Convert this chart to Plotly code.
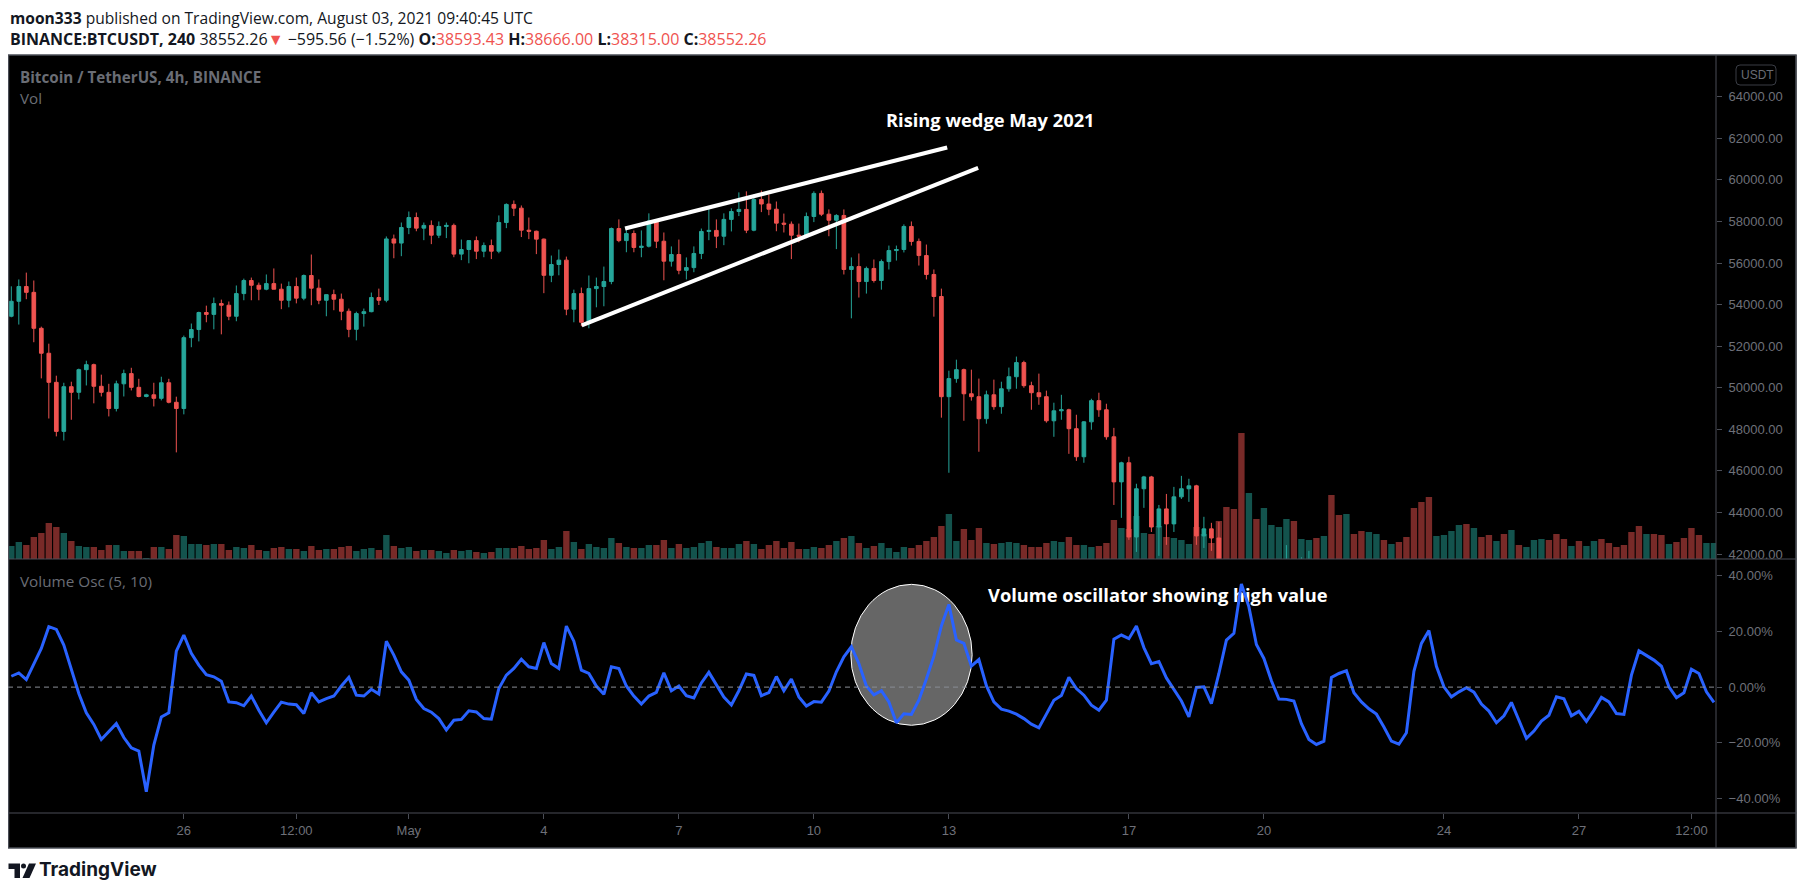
import pandas as pd
import plotly.graph_objects as go
from plotly.subplots import make_subplots

# BINANCE:BTCUSDT 4h candles, 22 Apr - 30 May 2021.
# Prices after 19 May fall below the visible pane; only a few wick tips show.
START = "2021-04-22 04:00"
N_BARS = 228

FIRST_OPEN = 53440
CLOSE = [
    54160, 54870, 54590, 52860, 51660, 50260, 47900, 50050, 49780, 50870,
    51110, 50070, 49780, 49000, 50190, 50680, 50020, 49580, 49660, 49490,
    50240, 49300, 49000, 52410, 52800, 53620, 53530, 54050, 53970, 53440,
    54530, 55160, 54930, 54740, 55010, 54740, 54210, 54870, 54310, 55400,
    54790, 54210, 54480, 54260, 53680, 52810, 53570, 53660, 54340, 54210,
    57160, 56960, 57710, 58190, 57680, 57810, 57340, 57760, 57810, 56430,
    56650, 57080, 56570, 56840, 56570, 57950, 58820, 58640, 57580, 57530,
    57150, 55410, 55930, 56140, 53780, 54530, 53150, 54770, 54870, 55110,
    57660, 57080, 57420, 56750, 56810, 58020, 57050, 56090, 56410, 55650,
    55780, 56460, 57520, 57570, 57290, 58100, 58480, 58580, 57580, 59060,
    58840, 58590, 57920, 57870, 57340, 57290, 58240, 59350, 58350, 58060,
    58290, 55690, 55830, 55110, 55740, 55160, 56070, 56600, 56650, 57760,
    57040, 56360, 55450, 54390, 49570, 50440, 50870, 49710, 49570, 48510,
    49660, 49090, 49950, 50530, 51210, 50100, 49760, 49570, 48410, 48890,
    48940, 48030, 46680, 48360, 49380, 48940, 47640, 45470, 46390, 42820,
    45140, 45710, 43300, 44170, 43450, 44750, 45140, 45280, 42870, 43210,
    42770, 40900, 38400, 36700, 34900, 38300, 36700, 38900, 39600, 40000,
    41300, 40200, 40800, 41200,
]
HIGH = [
    54880, 55210, 55540, 55160, 52940, 52120, 50580, 50240, 50290, 50920,
    51300, 51160, 50630, 50190, 50340, 50870, 50960, 50430, 49710, 50240,
    50530, 50430, 49570, 52510, 53090, 53660, 53950, 54340, 54240, 54150,
    54920, 55250, 55300, 55060, 55450, 55740, 55010, 55110, 55300, 55450,
    56410, 55210, 54480, 54720, 54530, 53810, 53660, 53810, 54580, 54770,
    57280, 57370, 57950, 58480, 58430, 57950, 58050, 58000, 57950, 57900,
    57130, 57080, 57280, 56990, 57130, 58290, 58870, 59010, 58770, 58190,
    57560, 57180, 56360, 56650, 56310, 54720, 54820, 55400, 55300, 55830,
    57710, 58100, 57610, 57570, 57570, 58390, 58100, 57470, 56800, 57130,
    56270, 56800, 57660, 58670, 58100, 58390, 58630, 59400, 59450, 59300,
    59490, 59300, 58960, 58380, 58000, 57900, 58430, 59450, 59490, 58580,
    58350, 58580, 56270, 56460, 55830, 56170, 56170, 56840, 56840, 57860,
    58000, 57180, 56890, 55690, 54770, 50820, 51350, 50920, 50870, 50440,
    49860, 50390, 50290, 50970, 51500, 51300, 50290, 50680, 49860, 49280,
    49660, 48990, 48700, 48400, 49470, 49760, 49230, 48070, 46440, 46680,
    45380, 45760, 45760, 44360, 44890, 45230, 45760, 45620, 45330, 43790,
    43500, 43550, 41100, 38600, 37000, 39300, 40000, 39400, 40100, 41000,
    42430, 41700, 41840, 42150,
]
LOW = [
    53390, 53040, 54260, 52190, 50450, 48520, 47660, 47460, 48460, 49440,
    50110, 49250, 49580, 48620, 48860, 49580, 49870, 49540, 49540, 49100,
    49390, 49250, 46890, 48720, 51950, 52230, 53150, 52810, 52570, 53250,
    53200, 54210, 54210, 54210, 54690, 54740, 53780, 53870, 54060, 54210,
    53970, 54020, 53440, 53730, 53250, 52430, 52280, 52940, 53630, 53980,
    54110, 56230, 56330, 57390, 57530, 57100, 56910, 57200, 57200, 56280,
    56140, 55990, 56190, 56280, 56190, 56470, 57680, 58260, 57250, 57150,
    56430, 54550, 55080, 55410, 53490, 53150, 52960, 52860, 53870, 53920,
    54980, 57000, 56520, 56520, 56280, 56750, 56720, 55170, 55830, 55460,
    55210, 55560, 56190, 57100, 56720, 56860, 57520, 58260, 57440, 57530,
    58450, 58300, 57530, 57470, 56190, 57000, 57200, 57970, 58260, 57290,
    56670, 55450, 53340, 54340, 54530, 55060, 54720, 55690, 56120, 56510,
    56840, 55880, 55210, 53420, 48560, 45910, 50240, 48410, 49380, 46920,
    48270, 48940, 48750, 49810, 49950, 50000, 48940, 49180, 48320, 47640,
    48460, 46820, 46480, 46390, 47980, 48600, 47500, 44360, 43740, 42680,
    42100, 44220, 43060, 41910, 42440, 43060, 44650, 44510, 42440, 42290,
    42150, 40500, 38000, 35500, 30000, 34500, 36400, 36600, 38300, 38700,
    39700, 39500, 40000, 40500,
]

# volume in thousands of BTC, and bar direction (g = up candle, r = down candle)
VOLUME_K = [
    13, 17, 14, 22, 26, 36, 32, 26, 18, 13,
    12, 12, 9, 14, 14, 8, 8, 8, 1, 12,
    12, 10, 24, 23, 15, 15, 14, 15, 15, 9,
    12, 11, 14, 9, 8, 11, 12, 10, 10, 8,
    13, 9, 10, 10, 12, 13, 8, 10, 11, 9,
    24, 13, 11, 12, 8, 9, 9, 8, 6, 9,
    8, 9, 7, 6, 7, 11, 11, 11, 13, 10,
    11, 19, 10, 12, 28, 17, 10, 15, 12, 11,
    21, 16, 12, 11, 11, 14, 14, 19, 11, 15,
    11, 12, 16, 18, 12, 11, 11, 15, 18, 15,
    10, 14, 18, 11, 17, 10, 10, 12, 11, 14,
    18, 21, 23, 16, 11, 13, 16, 11, 7, 12,
    11, 14, 18, 22, 33, 45, 18, 30, 19, 31,
    16, 15, 16, 17, 16, 14, 12, 12, 16, 18,
    17, 22, 14, 14, 12, 13, 16, 39, 31, 30,
    43, 26, 25, 33, 22, 21, 19, 15, 32, 25,
    16, 38, 52, 50, 126, 66, 40, 51, 34, 32,
    40, 38, 20, 19, 21, 23, 64, 44, 45, 25,
    28, 27, 25, 19, 15, 17, 22, 51, 57, 62,
    23, 24, 28, 34, 35, 31, 22, 24, 18, 25,
    29, 14, 12, 19, 20, 19, 25, 20, 13, 18,
    13, 18, 20, 16, 12, 14, 27, 33, 25, 25,
    24, 15, 17, 21, 31, 24, 16, 16,
]
VOLUME_DIR = "".join([
    "ggrrrrrgrg", "grrrggrrgr", "grrgggrgrr", "ggrrgrrgrg", "rrgrrrgggr",
    "grggrgrggr", "ggrgrggrrr", "rrggrgrggg", "grgrggrrgr", "ggggrgggrg",
    "rrrrrrggrr", "grgrgrgggg", "rrrrrggrrr", "grgggrrrrg", "grrggrrrgr",
    "ggrgrgggrg", "rrrrrgrggg", "grggrgrrgr", "rggrgrrrrr", "ggggrgrrgr",
    "grgggrrrgr", "ggrrrrrrgr", "rgrrrrgg",
])

# Volume Osc (5, 10), percent
VOL_OSC = [
    3.9, 5.1, 2.7, 8.5, 13.9, 21.7, 20.7, 15.1, 6.7, -2.3,
    -9.2, -13.4, -18.8, -15.8, -13.1, -18.1, -21.8, -23.0, -37.6, -20.8,
    -10.7, -9.2, 12.9, 18.7, 12.1, 7.9, 4.5, 3.7, 2.1, -5.3,
    -5.6, -6.7, -3.2, -8.3, -12.8, -9.0, -5.4, -6.1, -6.3, -9.5,
    -2.0, -5.3, -4.1, -3.2, 0.4, 3.5, -2.9, -3.2, -0.8, -2.5,
    16.5, 11.5, 5.5, 2.5, -4.4, -7.7, -9.0, -11.3, -15.4, -11.9,
    -11.6, -8.5, -8.9, -11.3, -11.5, -0.5, 4.3, 6.7, 10.0, 7.3,
    6.7, 16.0, 8.5, 6.7, 21.9, 16.5, 6.1, 4.9, 0.4, -2.6,
    7.3, 6.7, 0.4, -3.2, -6.1, -3.2, -1.9, 5.1, -1.3, 0.4,
    -3.1, -3.9, 1.5, 5.3, 0.7, -3.6, -6.4, -1.3, 4.7, 4.2,
    -3.1, -2.0, 3.8, -1.3, 2.9, -3.5, -6.8, -5.2, -5.4, -1.4,
    5.5, 10.9, 14.5, 8.5, 0.4, -2.8, -1.3, -5.3, -12.8, -9.6,
    -9.8, -4.7, 2.9, 11.1, 22.0, 29.7, 16.9, 15.7, 7.5, 9.9,
    0.5, -5.3, -7.9, -8.6, -9.7, -11.3, -13.3, -14.6, -9.7, -4.7,
    -3.0, 3.5, -0.5, -2.9, -6.5, -8.3, -4.7, 17.2, 18.7, 17.4,
    21.9, 14.2, 8.4, 9.2, 3.3, -1.1, -5.0, -10.7, -0.1, 0.1,
    -5.9, 4.9, 16.9, 19.3, 37.0, 28.8, 15.3, 10.3, 2.3, -4.3,
    -4.4, -5.0, -13.1, -18.8, -20.6, -19.4, 3.5, 4.9, 5.9, -2.0,
    -5.3, -7.8, -9.7, -14.3, -19.4, -20.5, -16.4, 5.7, 15.7, 20.3,
    7.5, 0.1, -3.5, -1.7, -0.2, -1.8, -6.1, -8.6, -12.8, -10.3,
    -5.5, -11.9, -18.4, -15.8, -12.2, -10.1, -3.5, -4.2, -10.3, -8.7,
    -12.3, -8.3, -3.7, -5.3, -9.5, -9.8, 4.3, 13.0, 11.5, 9.7,
    7.5, 0.1, -3.8, -2.0, 6.4, 4.9, -1.7, -5.5,
]

TICK_DATES = ["2021-04-26", "2021-04-28 12:00", "2021-05-01", "2021-05-04",
              "2021-05-07", "2021-05-10", "2021-05-13", "2021-05-17",
              "2021-05-20", "2021-05-24", "2021-05-27", "2021-05-29 12:00"]
TICK_LABELS = ["26", "12:00", "May", "4", "7", "10", "13", "17", "20", "24", "27", "12:00"]
PRICE_TICKS = [42000, 44000, 46000, 48000, 50000, 52000, 54000, 56000, 58000, 60000, 62000, 64000]
OSC_TICKS = [40, 20, 0, -20, -40]
OSC_TICK_LABELS = ["40.00%", "20.00%", "0.00%", "\u221220.00%", "\u221240.00%"]

# drawings from the published idea
WEDGE_UPPER = (["2021-05-05 19:18", "2021-05-12 23:06"], [57660, 61560])
WEDGE_LOWER = (["2021-05-04 20:12", "2021-05-13 15:36"], [53000, 60580])
HIGHLIGHT = (["2021-05-10 19:42", "2021-05-13 12:24"], [-13.7, 36.9])
WEDGE_NOTE = ("2021-05-11 13:24", 62910, "Rising wedge May 2021")
OSC_NOTE = ("2021-05-13 20:54", 32.3, "Volume oscillator showing high value")

X_RANGE = ["2021-04-22 02:14", "2021-05-30 01:06"]
PRICE_RANGE = [41760, 66010]
OSC_RANGE = [-45.2, 46.0]

UP, DOWN = "#26a69a", "#ef5350"
UP_VOL, DOWN_VOL = "rgba(38,166,154,0.5)", "rgba(239,83,80,0.5)"
AXIS_TEXT = "#6e7079"
LINE = "#4a4d56"
TICK_FONT = dict(family="Liberation Sans, Arial, sans-serif", size=13, color=AXIS_TEXT)
HEAD = "Open Sans, Liberation Sans, sans-serif"
NOTE_FONT = dict(family=HEAD, size=18.3, color="white", weight="bold")

# Page geometry: the page body has an 8px margin, so the figure starts at (8, 8).
# Positions below are page pixels; the plot area runs x 8..1716, y 55..813.
W, H = 1789, 879
PLOT_L, PLOT_R, PLOT_T, PLOT_B = 8, 1716, 55, 813
PW, PH = PLOT_R - PLOT_L, PLOT_B - PLOT_T


def px(x):
    return (x - PLOT_L) / PW


def py(y):
    return (PLOT_B - y) / PH


dates = pd.date_range(START, periods=N_BARS, freq="4h")
opens = [FIRST_OPEN] + CLOSE[:-1]

fig = make_subplots(
    rows=2, cols=1, shared_xaxes=True, vertical_spacing=0,
    row_heights=[504, 254], specs=[[{"secondary_y": True}], [{}]],
)

fig.add_trace(go.Bar(
    x=dates, y=VOLUME_K,
    marker=dict(color=[UP_VOL if d == "g" else DOWN_VOL for d in VOLUME_DIR], line_width=0),
), row=1, col=1, secondary_y=False)

fig.add_trace(go.Candlestick(
    x=dates[:len(CLOSE)], open=opens, high=HIGH, low=LOW, close=CLOSE,
    increasing=dict(line=dict(color=UP, width=1), fillcolor=UP),
    decreasing=dict(line=dict(color=DOWN, width=1), fillcolor=DOWN),
    whiskerwidth=0,
), row=1, col=1, secondary_y=True)

# note text first so the oscillator line runs over it, as in the original
fig.add_trace(go.Scatter(
    x=[OSC_NOTE[0]], y=[OSC_NOTE[1]], text=[OSC_NOTE[2]], mode="text",
    textposition="middle right", textfont=NOTE_FONT,
), row=2, col=1)

fig.add_trace(go.Scatter(
    x=dates, y=VOL_OSC, mode="lines", line=dict(color="#2962ff", width=3),
), row=2, col=1)

fig.update_layout(
    width=W, height=H,
    margin=dict(l=PLOT_L - 8, r=W - (PLOT_R - 8), t=PLOT_T - 8, b=H - (PLOT_B - 8)),
    paper_bgcolor="white", plot_bgcolor="black",
    showlegend=False, hovermode=False, bargap=0.15,
)

fig.update_xaxes(domain=[0, 1], range=X_RANGE, showgrid=False, zeroline=False,
                 showline=False, rangeslider_visible=False)
fig.update_xaxes(showticklabels=False, ticks="", row=1, col=1)
fig.update_xaxes(tickvals=TICK_DATES, ticktext=TICK_LABELS, ticks="outside", ticklen=5,
                 tickcolor=LINE, tickfont=TICK_FONT, row=2, col=1)

fig.update_yaxes(range=[0, 504], visible=False, row=1, col=1, secondary_y=False)
fig.update_yaxes(range=PRICE_RANGE, tickvals=PRICE_TICKS, tickformat=".2f", side="right",
                 ticks="outside", ticklen=5, tickcolor=LINE, tickfont=TICK_FONT,
                 ticklabelstandoff=4, showgrid=False, zeroline=False, showline=False,
                 row=1, col=1, secondary_y=True)
fig.update_yaxes(range=OSC_RANGE, tickvals=OSC_TICKS, ticktext=OSC_TICK_LABELS, side="right",
                 ticks="outside", ticklen=5, tickcolor=LINE, tickfont=TICK_FONT,
                 ticklabelstandoff=4, showgrid=False, zeroline=False, showline=False,
                 row=2, col=1)

# black chart frame with pane separators
fig.add_shape(type="rect", xref="paper", yref="paper", x0=px(8), x1=px(1796.5),
              y0=py(848), y1=py(55), fillcolor="black", line_width=0, layer="below")
fig.add_shape(type="rect", xref="paper", yref="paper", x0=px(8.5), x1=px(1796),
              y0=py(848), y1=py(55), line=dict(color=LINE, width=1.5))
for y in (559, 813):
    fig.add_shape(type="line", xref="paper", yref="paper", x0=px(8), x1=px(1796.5),
                  y0=py(y), y1=py(y), line=dict(color=LINE, width=1))
fig.add_shape(type="line", xref="paper", yref="paper", x0=px(1716), x1=px(1716),
              y0=py(848), y1=py(55), line=dict(color=LINE, width=1))
fig.add_shape(type="path", xref="paper", yref="paper",
              path=(f"M {px(1740)} {py(65)} L {px(1772)} {py(65)} Q {px(1776)} {py(65)} {px(1776)} {py(69)} "
                    f"L {px(1776)} {py(81)} Q {px(1776)} {py(85)} {px(1772)} {py(85)} "
                    f"L {px(1740)} {py(85)} Q {px(1736)} {py(85)} {px(1736)} {py(81)} "
                    f"L {px(1736)} {py(69)} Q {px(1736)} {py(65)} {px(1740)} {py(65)} Z"),
              line=dict(color="#3a3d45", width=1))

# zero line of the oscillator
fig.add_shape(type="line", xref="x2 domain", yref="y3", x0=0, x1=1, y0=0, y1=0,
              line=dict(color="#8a8d96", width=1, dash="5px,4px"))

# rising wedge and highlighted oscillator spike
for xs, ys in (WEDGE_UPPER, WEDGE_LOWER):
    fig.add_shape(type="line", xref="x", yref="y2", x0=xs[0], x1=xs[1], y0=ys[0], y1=ys[1],
                  line=dict(color="white", width=4))
fig.add_shape(type="circle", xref="x2", yref="y3", x0=HIGHLIGHT[0][0], x1=HIGHLIGHT[0][1],
              y0=HIGHLIGHT[1][0], y1=HIGHLIGHT[1][1], fillcolor="#666666",
              line=dict(color="white", width=1), layer="below")

fig.add_annotation(x=WEDGE_NOTE[0], y=WEDGE_NOTE[1], text=WEDGE_NOTE[2], xref="x", yref="y2",
                   xanchor="left", showarrow=False, font=NOTE_FONT)

# header, pane titles, footer
header2 = ("<b>BINANCE:BTCUSDT, 240</b> 38552.26<span style='color:#ef5350'>\u25bc</span> "
           "\u2212595.56 (\u22121.52%) <b>O:</b><span style='color:#ef5350'>38593.43</span> "
           "<b>H:</b><span style='color:#ef5350'>38666.00</span> "
           "<b>L:</b><span style='color:#ef5350'>38315.00</span> "
           "<b>C:</b><span style='color:#ef5350'>38552.26</span>")
labels = [
    (9, 18, "<b>moon333</b> published on TradingView.com, August 03, 2021 09:40:45 UTC",
     dict(family=HEAD, size=15.6, color="#131722")),
    (9, 39, header2, dict(family=HEAD, size=16, color="#131722")),
    (19, 77, "<b>Bitcoin / TetherUS, 4h, BINANCE</b>", dict(family=HEAD, size=15.2, color="#6a6d75")),
    (19, 98, "Vol", dict(family=HEAD, size=15.2, color="#6a6d75")),
    (19, 581, "Volume Osc (5, 10)", dict(family=HEAD, size=15.3, color="#6a6d75")),
    (1740, 75, "USDT", dict(family="Liberation Sans, sans-serif", size=12, color="#6a6d75")),
    (38, 869, "<b>TradingView</b>", dict(family="Inter, sans-serif", size=19, color="#131722")),
]
for x, y, text, font in labels:
    fig.add_annotation(x=px(x), y=py(y), xref="paper", yref="paper", text=text,
                       xanchor="left", yanchor="middle", showarrow=False, font=font,
                       borderpad=0)

# TradingView logo mark
logo = "#131722"
fig.add_shape(type="path", xref="paper", yref="paper", fillcolor=logo, line_width=0,
              path=(f"M {px(8.5)} {py(863.5)} L {px(20)} {py(863.5)} L {px(20)} {py(878)} "
                    f"L {px(14.5)} {py(878)} L {px(14.5)} {py(869)} L {px(8.5)} {py(869)} Z"))
fig.add_shape(type="circle", xref="paper", yref="paper", fillcolor=logo, line_width=0,
              x0=px(21), x1=px(26), y0=py(868.5), y1=py(863.5))
fig.add_shape(type="path", xref="paper", yref="paper", fillcolor=logo, line_width=0,
              path=(f"M {px(29)} {py(863.5)} L {px(36)} {py(863.5)} L {px(29.5)} {py(878)} "
                    f"L {px(22.5)} {py(878)} Z"))

fig.write_html("out.html")
